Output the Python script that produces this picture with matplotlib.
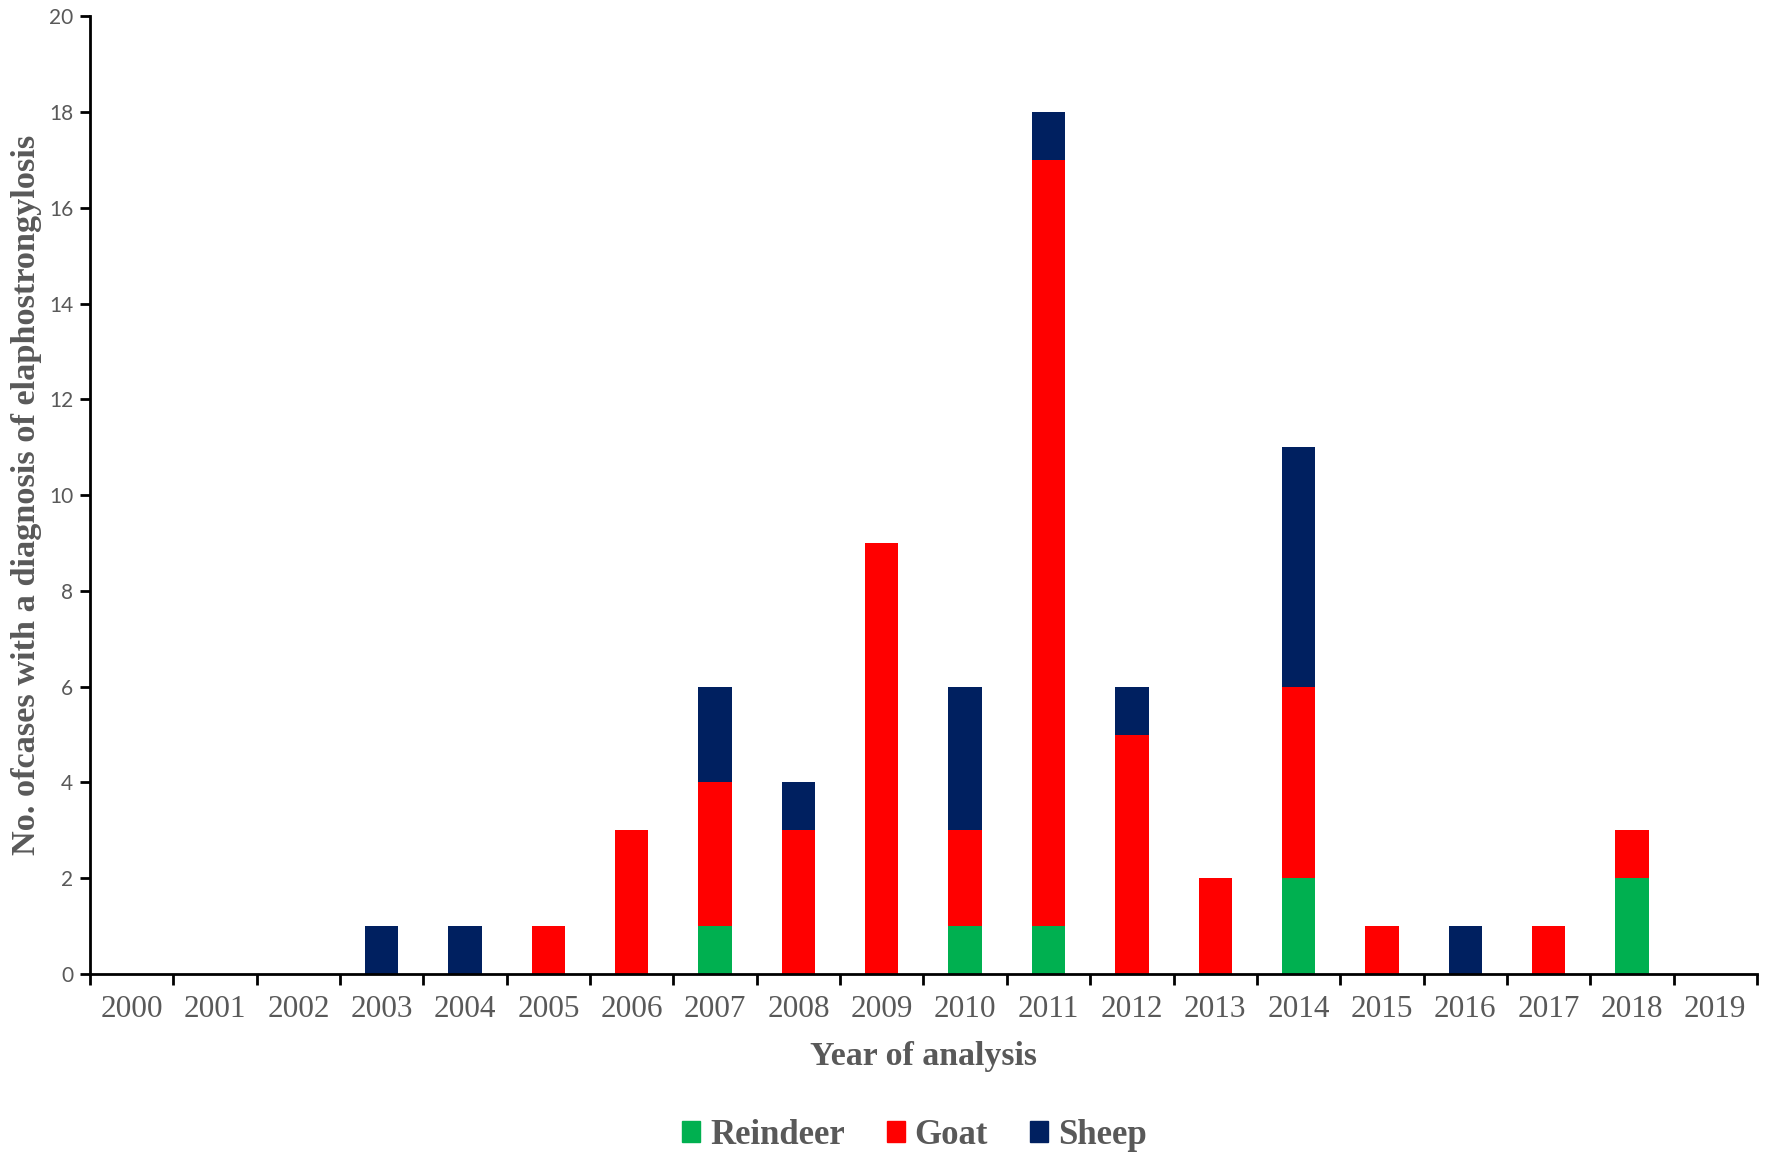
import numpy as np
import matplotlib
matplotlib.use("Agg")
from matplotlib import pyplot as plt
from matplotlib.patches import Patch

years = [str(y) for y in range(2000, 2020)]
reindeer = [0, 0, 0, 0, 0, 0, 0, 1, 0, 0, 1, 1, 0, 0, 2, 0, 0, 0, 2, 0]
goat = [0, 0, 0, 0, 0, 1, 3, 3, 3, 9, 2, 16, 5, 2, 4, 1, 0, 1, 1, 0]
sheep = [0, 0, 0, 1, 1, 0, 0, 2, 1, 0, 3, 1, 1, 0, 5, 0, 1, 0, 0, 0]

GREEN = '#00B050'
RED = '#FF0000'
NAVY = '#002060'
GREY = '#595959'
SERIF = ['Liberation Serif', 'DejaVu Serif']

fig = plt.figure(figsize=(17.72, 11.6), dpi=100)
ax = fig.add_axes([0.0508, 0.1603, 0.9407, 0.8257])

x = np.arange(len(years))
r = np.array(reindeer)
g = np.array(goat)
s = np.array(sheep)
w = 0.4
ax.bar(x, r, w, color=GREEN)
ax.bar(x, g, w, bottom=r, color=RED)
ax.bar(x, s, w, bottom=r + g, color=NAVY)

ax.set_xlim(-0.5, len(years) - 0.5)
ax.set_ylim(0, 20)
ax.set_yticks(range(0, 21, 2))
ax.tick_params(axis='y', direction='out', length=7, width=2, labelsize=15,
               labelcolor=GREY, pad=5)
for lab in ax.get_yticklabels():
    lab.set_family(['Lato', 'DejaVu Sans'])

# category labels centred, tick marks at boundaries
ax.set_xticks(x)
ax.set_xticklabels(years, family=SERIF, fontsize=22.5, color=GREY)
ax.tick_params(axis='x', which='major', length=0, pad=15)
ax.set_xticks(np.arange(-0.5, len(years), 1), minor=True)
ax.tick_params(axis='x', which='minor', direction='out', length=8, width=2)

for side in ['top', 'right']:
    ax.spines[side].set_visible(False)
for side in ['left', 'bottom']:
    ax.spines[side].set_linewidth(2)

ax.set_xlabel('Year of analysis', family=SERIF, fontsize=24.4, fontweight='bold',
              color=GREY, labelpad=12)
ax.set_ylabel('No. ofcases with a diagnosis of elaphostrongylosis', family=SERIF,
              fontsize=24.7, fontweight='bold', color=GREY, labelpad=5)

handles = [Patch(color=GREEN, label='Reindeer'),
           Patch(color=RED, label='Goat'),
           Patch(color=NAVY, label='Sheep')]
leg = fig.legend(handles=handles, loc='center', bbox_to_anchor=(0.516, 0.021),
                 ncol=3, frameon=False, handlelength=0.52, handleheight=0.55,
                 handletextpad=0.29, columnspacing=1.2,
                 prop={'family': SERIF, 'size': 25, 'weight': 'bold'})
for t in leg.get_texts():
    t.set_color(GREY)

fig.savefig('out.png', dpi=100)
